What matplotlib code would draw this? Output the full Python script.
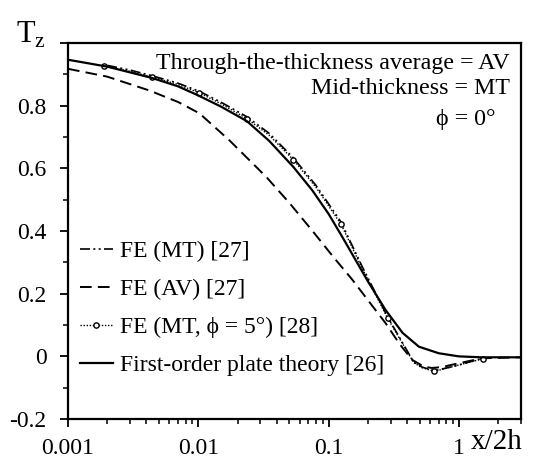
import matplotlib
matplotlib.use("Agg")
import matplotlib.pyplot as plt
from matplotlib.ticker import LogLocator, FixedLocator, MultipleLocator, NullFormatter, FuncFormatter

plt.rcParams["font.family"] = ["Liberation Serif", "DejaVu Serif"]

# first-order plate theory [26]
plate_x = [0.001, 0.002, 0.0044, 0.007, 0.01, 0.015, 0.0236, 0.035, 0.0536, 0.075, 0.1, 0.128,
           0.16, 0.2, 0.274, 0.37, 0.493, 0.7, 1.0, 1.5, 3.0]
plate_y = [0.947, 0.925, 0.889, 0.862, 0.833, 0.797, 0.751, 0.688, 0.605, 0.530, 0.455, 0.380,
           0.310, 0.240, 0.148, 0.075, 0.031, 0.010, 0.000, -0.003, -0.003]

# FE (AV) [27]
av_x = [0.001, 0.002, 0.0042, 0.007, 0.0102, 0.0173, 0.0334, 0.05, 0.0754, 0.11, 0.152, 0.2,
        0.274, 0.35, 0.438, 0.54, 0.62, 0.75, 0.88, 1.26, 1.52, 3.0]
av_y = [0.918, 0.893, 0.849, 0.812, 0.776, 0.690, 0.572, 0.490, 0.400, 0.315, 0.245, 0.180,
        0.106, 0.040, -0.011, -0.033, -0.037, -0.034, -0.027, -0.013, -0.006, -0.003]

# FE (MT) [27]
mt_x = [0.002, 0.003, 0.0044, 0.007, 0.0102, 0.015, 0.0236, 0.035, 0.0536, 0.08, 0.125, 0.18,
        0.284, 0.45, 0.52, 0.65, 0.95, 1.52]
mt_y = [0.929, 0.914, 0.896, 0.872, 0.846, 0.811, 0.765, 0.712, 0.634, 0.546, 0.428, 0.289,
        0.126, -0.018, -0.034, -0.046, -0.030, -0.006]

# FE (MT, phi = 5 deg) [28]
mt5_x = [0.0019, 0.003, 0.0044, 0.007, 0.0102, 0.015, 0.0236, 0.035, 0.0536, 0.08, 0.125, 0.18,
         0.284, 0.45, 0.52, 0.65, 0.95, 1.52]
mt5_y = [0.926, 0.910, 0.892, 0.868, 0.841, 0.806, 0.759, 0.706, 0.628, 0.540, 0.421, 0.283,
         0.122, -0.020, -0.036, -0.048, -0.030, -0.008]
mt5_marks = [0, 2, 4, 6, 8, 10, 12, 15, 17]

fig = plt.figure(figsize=(5.33, 4.74), dpi=100)
ax = fig.add_axes([0.1276, 0.116, 0.8499, 0.793])

ax.plot(mt_x, mt_y, color="black", lw=1.2, ls=(0, (6, 2, 1.2, 2, 1.2, 2)), label="FE (MT) [27]")
ax.plot(av_x, av_y, color="black", lw=1.4, ls=(0, (6, 3.2)), label="FE (AV) [27]")
ax.plot(mt5_x, mt5_y, color="black", lw=1.0, ls=(0, (1, 1.2)), marker="o", markersize=3.8,
        markerfacecolor="white", markeredgecolor="black", markeredgewidth=1.0,
        markevery=mt5_marks, label="FE (MT, \u03d5 = 5\u00b0) [28]")
ax.plot(plate_x, plate_y, color="black", lw=1.6, label="First-order plate theory [26]")

ax.set_xscale("log")
ax.set_xlim(0.001, 3)
ax.set_ylim(-0.2, 1.0)

ax.xaxis.set_major_locator(FixedLocator([0.001, 0.01, 0.1, 1]))
ax.xaxis.set_minor_locator(LogLocator(base=10, subs=range(2, 10), numticks=20))
ax.xaxis.set_minor_formatter(NullFormatter())
ax.set_xticklabels(["0.001", "0.01", "0.1", "1"])
ax.yaxis.set_major_locator(MultipleLocator(0.2))
ax.yaxis.set_minor_locator(MultipleLocator(0.1))
ax.yaxis.set_major_formatter(FuncFormatter(
    lambda v, p: "" if v > 0.95 else ("0" if abs(v) < 1e-9 else f"{v:.1f}")))

ax.tick_params(which="major", direction="out", length=5.5, width=1.3, labelsize=17, pad=8)
ax.tick_params(axis="y", which="major", pad=10)
ax.tick_params(which="minor", direction="out", length=3.8, width=1.1)
for s in ax.spines.values():
    s.set_linewidth(1.6)

fig.text(16 / 533, 1 - 35 / 474, "T$_\\mathregular{z}$", fontsize=22, ha="left", va="center")
fig.text(471 / 533, 1 - 442 / 474, "x/2h", fontsize=21, ha="left", va="center")

fig.text(510 / 533, 1 - 63 / 474, "Through-the-thickness average = AV", fontsize=17.3, ha="right", va="center")
fig.text(510 / 533, 1 - 88 / 474, "Mid-thickness = MT", fontsize=17.3, ha="right", va="center")
fig.text(495 / 533, 1 - 120 / 474, "\u03d5 = 0\u00b0", fontsize=17.3, ha="right", va="center")

ax.legend(loc="lower left", bbox_to_anchor=(0.0, 0.083), frameon=False, fontsize=17,
          handlelength=1.4, handletextpad=0.3, labelspacing=0.7, borderaxespad=0.1)

fig.savefig("out.png", dpi=100)
